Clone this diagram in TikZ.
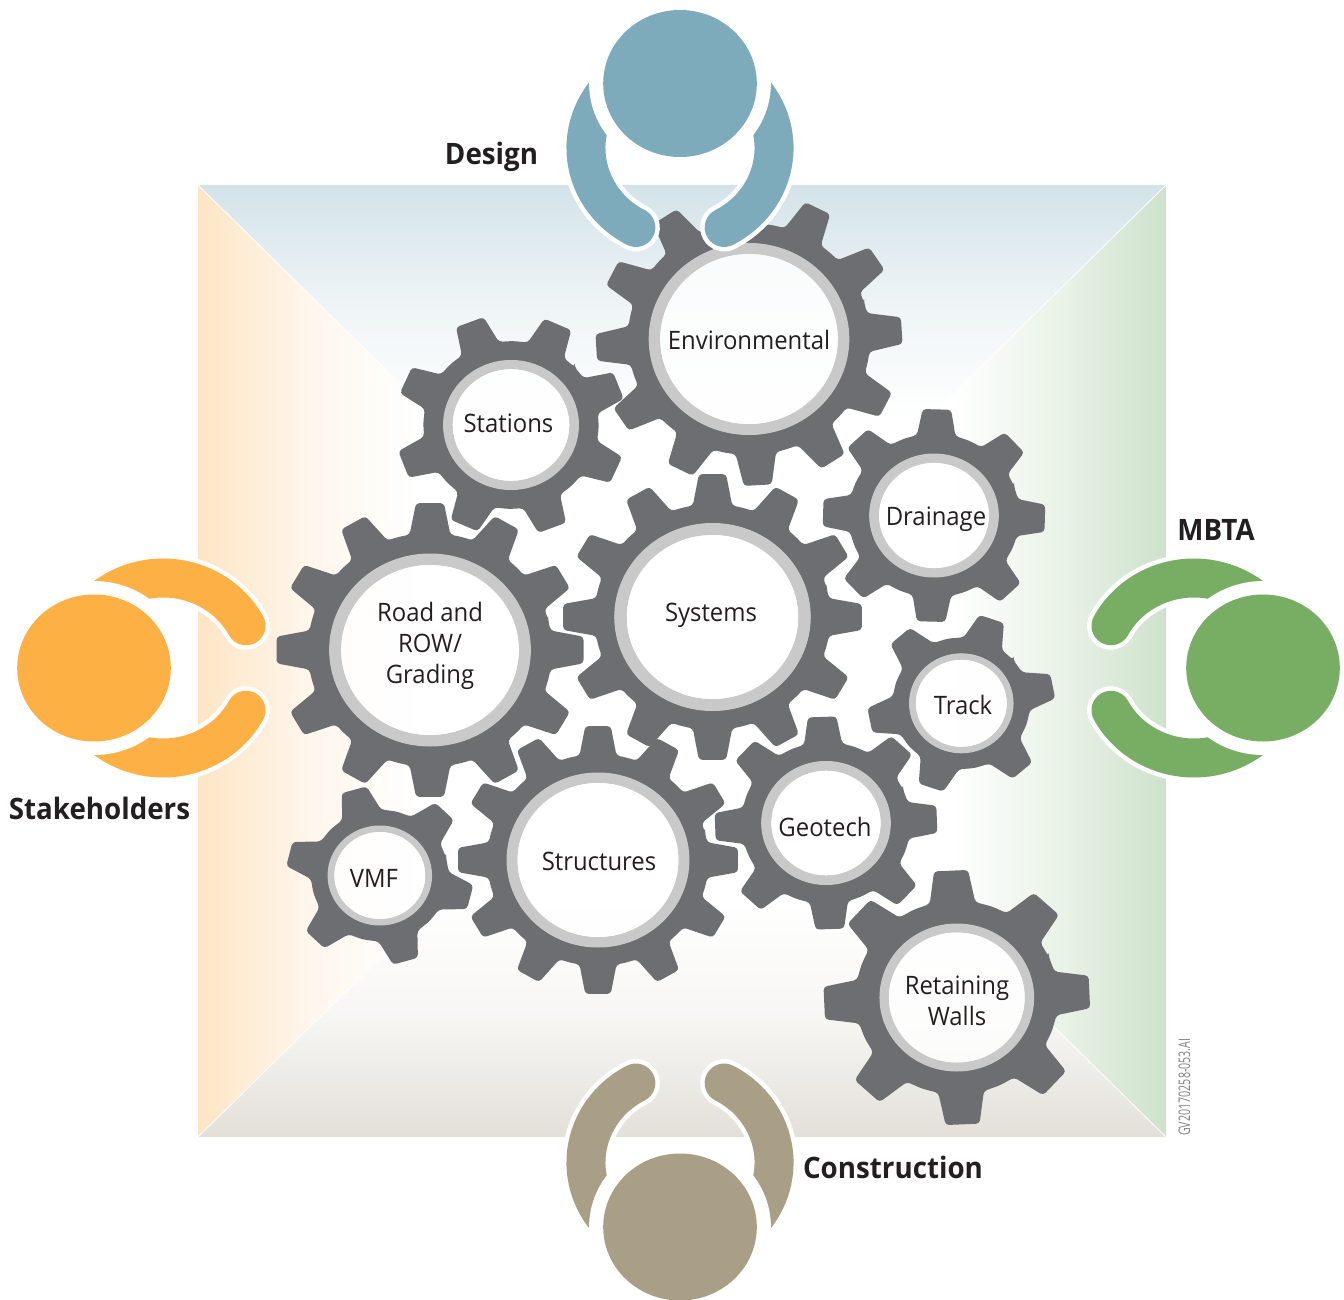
\documentclass[tikz,border=0pt]{standalone}
\usepackage{fontspec}
\setmainfont[FakeStretch=0.94]{Open Sans}
\definecolor{gearc}{HTML}{6D6E71}
\definecolor{ringc}{HTML}{C9C9C9}
\definecolor{inkc}{HTML}{231F20}
\definecolor{codec}{HTML}{808285}
\definecolor{designc}{HTML}{7DABBC}
\definecolor{stakec}{HTML}{FDB144}
\definecolor{mbtac}{HTML}{77AE63}
\definecolor{constc}{HTML}{A99E86}
\definecolor{bgtop}{HTML}{D3E3E9}
\definecolor{bgtopm}{HTML}{EEF4F6}
\definecolor{bgleft}{HTML}{FDE5C5}
\definecolor{bgleftm}{HTML}{FFF6EC}
\definecolor{bgright}{HTML}{CEE2CB}
\definecolor{bgrightm}{HTML}{EAF3E8}
\definecolor{bgbottom}{HTML}{E3E0DA}
\definecolor{bgbottomm}{HTML}{F7F6F3}
\tikzset{
  gearlabel/.style={text=inkc,anchor=base,inner sep=0pt,align=center,font=\fontsize{25.4}{31}\selectfont},
  titlelabel/.style={text=inkc,anchor=base,inner sep=0pt,font=\fontsize{29.5}{34}\selectfont\bfseries},
  armhalo/.style={white,line width=48pt,line cap=round},
  armband/.style={line width=39pt,line cap=round},
  topshade/.style={top color=bgtop,bottom color=white,middle color=bgtopm},
}
% name, cx, cy, tip R, root R, ring R, inner R, teeth, phase
\newcommand{\mygear}[9]{%
  \pgfmathsetmacro\gp{360/#8}%
  \ifnum#8=12 \def\bh{9.6}\def\th{5.2}\fi
  \ifnum#8=8 \def\bh{13}\def\th{7.3}\fi
  \ifnum#8=6 \def\bh{17}\def\th{7.9}\fi
  \begin{scope}[shift={(#2,#3)},xscale=1.045]
    \fill[gearc,even odd rule,rounded corners=3.5pt] (#9-\gp/2:#5)
      \foreach \i [evaluate=\i as \a using {#9+\i*\gp}] in {1,...,#8}{
        -- (\a-\gp-\bh:#5) -- (\a-\gp-\th:#4) -- (\a-\gp+\th:#4) -- (\a-\gp+\bh:#5) -- (\a-\gp/2:#5)
      } -- cycle (0,0) circle (#6-0.4);
    \fill[ringc,even odd rule] (0,0) circle (#6) (0,0) circle (#7);
    \fill[white,opacity=0.8] (0,0) circle (#7);
  \end{scope}%
}
% arm centre x, y, head centre x, y, colour, rotation
\newcommand{\myperson}[6]{%
  \begin{scope}[shift={(#1,#2)},xscale=1.045]
    \draw[armhalo] (#6+118:90) arc[start angle=#6+118,end angle=#6+232,radius=90];
    \draw[armhalo] (#6+62:90) arc[start angle=#6+62,end angle=#6-52,radius=90];
    \draw[armband,#5] (#6+118:90) arc[start angle=#6+118,end angle=#6+232,radius=90];
    \draw[armband,#5] (#6+62:90) arc[start angle=#6+62,end angle=#6-52,radius=90];
  \end{scope}
  \begin{scope}[shift={(#3,#4)},xscale=1.045]
    \fill[white] (0,0) circle (87);
    \fill[#5] (0,0) circle (73.5);
  \end{scope}%
}
\begin{document}
\begin{tikzpicture}[x=1pt,y=-1pt]
\useasboundingbox (0,0) rectangle (1344,1300);
\fill[white] (0,0) rectangle (1344,1300);
\coordinate (mid) at (682,661);
\coordinate (tl) at (198,185);
\coordinate (tr) at (1166,185);
\coordinate (bl) at (198,1137);
\coordinate (br) at (1166,1137);
\begin{scope}
  \clip (tl) -- (tr) -- (mid) -- cycle;
  \shade[topshade] (198,185) rectangle (1166,420);
\end{scope}
\begin{scope}
  \clip (tl) -- (bl) -- (mid) -- cycle;
  \shade[left color=bgleft,right color=white,middle color=bgleftm] (198,185) rectangle (420,1137);
\end{scope}
\begin{scope}
  \clip (tr) -- (br) -- (mid) -- cycle;
  \shade[right color=bgright,left color=white,middle color=bgrightm] (950,185) rectangle (1166,1137);
\end{scope}
\begin{scope}
  \clip (bl) -- (br) -- (mid) -- cycle;
  \shade[bottom color=bgbottom,top color=white,middle color=bgbottomm] (198,900) rectangle (1166,1137);
\end{scope}
\draw[white,line width=0.8pt] (tl) -- (mid) (tr) -- (mid) (bl) -- (mid) (br) -- (mid);

\mygear{env}{749}{339}{147}{116}{96}{85}{12}{-3.3}
% the tooth hidden behind the Design arm must not show beside it
\begin{scope}
  \clip (715,186) rectangle (736,207);
  \shade[topshade] (198,185) rectangle (1166,420);
\end{scope}
\mygear{sta}{511}{425}{111}{84}{65}{55.8}{8}{-21}
\mygear{sys}{712.5}{617}{143.5}{113}{94}{82}{12}{0}
\mygear{road}{430}{650}{147.5}{117}{96.5}{85}{12}{0}
\mygear{str}{598}{860}{134.5}{106}{87.5}{77}{12}{0}
\mygear{geo}{826}{823}{107}{81}{62}{52.3}{8}{-2}
\mygear{dra}{934}{515.5}{107}{82}{62}{52.6}{8}{1.5}
\mygear{tra}{961.3}{703.3}{90}{66}{50}{43.5}{6}{-11}
\mygear{vmf}{379.8}{875.5}{90}{66}{50}{43.5}{6}{14}
\mygear{ret}{956.8}{997.5}{128}{97}{74}{65}{8}{-2.5}

\node[gearlabel] (lenv) at (749,349) {Environmental};
\node[gearlabel] (lsta) at (508.5,432) {Stations};
\node[gearlabel] (lsys) at (711,621) {Systems};
\node[gearlabel,anchor=center] (lroad) at (430,646) {Road and\\ROW/\\Grading};
\node[gearlabel] (lstr) at (599,870) {Structures};
\node[gearlabel] (lgeo) at (825,836) {Geotech};
\node[gearlabel] (ldra) at (936,525) {Drainage};
\node[gearlabel] (ltra) at (963,714) {Track};
\node[gearlabel] (lvmf) at (374,887) {VMF};
\node[gearlabel,anchor=center] (lret) at (957,1001) {Retaining\\Walls};

\myperson{680}{148}{680}{83.5}{designc}{0}
\myperson{680}{1162.5}{680}{1227}{constc}{180}
\myperson{163}{668}{94}{668}{stakec}{-90}
\myperson{1194}{668}{1263}{668}{mbtac}{90}

\node[titlelabel] (tdes) at (491.5,165) {Design};
\node[titlelabel] (tmbt) at (1216,540) {MBTA};
\node[titlelabel] (tsta) at (99.5,819) {Stakeholders};
\node[titlelabel] (tcon) at (893,1178) {Construction};
\node[rotate=90,anchor=base west,inner sep=0pt,text=codec,font=\fontsize{16}{16}\selectfont] (tcode) at (1190,1136) {\scalebox{0.71}[1]{GV20170258-053.AI}};
\end{tikzpicture}
\end{document}
